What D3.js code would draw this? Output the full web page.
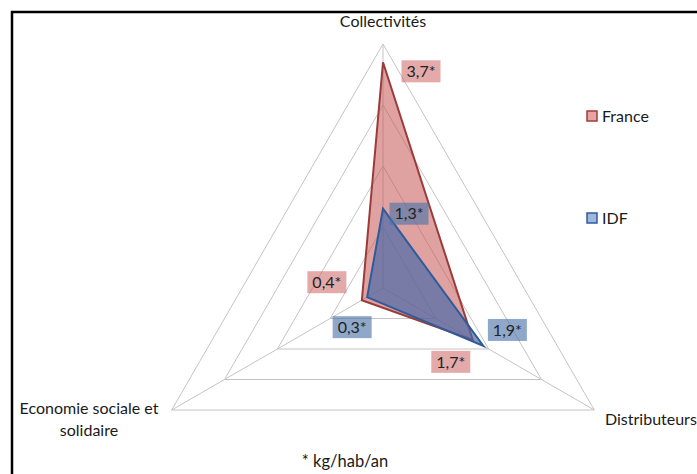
<!DOCTYPE html>
<html>
<head>
<meta charset="utf-8">
<script src="https://cdn.jsdelivr.net/npm/d3@7"></script>
<style>
  html, body { margin: 0; padding: 0; background: #fff; }
  svg { display: block; font-family: Lato, "Open Sans", sans-serif; }
</style>
</head>
<body>
<svg id="chart" width="697" height="474"></svg>
<script>
// Waste collected per channel, kg per inhabitant per year
const axes = ["Collectivités", "Distributeurs", "Economie sociale et solidaire"];
const seriesNames = ["France", "IDF"];
const franceValues = [3.7, 1.7, 0.4];
const idfValues = [1.3, 1.9, 0.3];
const ringTicks = [1, 2, 3, 4];
const footnote = "* kg/hab/an";

const series = [
  { name: seriesNames[0], values: franceValues },
  { name: seriesNames[1], values: idfValues }
];

const colors = {
  France: { stroke: "#9b3b3a", fill: "rgba(196,86,84,0.55)", label: "rgba(205,100,100,0.55)", swatch: "#e6a5a4", swatchStroke: "#a13d3c" },
  IDF:    { stroke: "#2f5b9a", fill: "rgba(72,104,170,0.68)", label: "rgba(75,115,170,0.62)", swatch: "#9db8dc", swatchStroke: "#2f5b9a" }
};

// label placement around each vertex (pixel offsets from the data point)
const labelNudge = {
  France: [[38, 9], [-22, 22], [-35, -18]],
  IDF:    [[26, 5], [24, -16], [-15, 30]]
};

const svg = d3.select("#chart");
const cx = 383, cy = 288, R = 244;

const r = d3.scaleLinear().domain([0, d3.max(ringTicks)]).range([0, R]);
// first axis points up, then clockwise
const angle = d3.scalePoint().domain(d3.range(axes.length)).range([0, 2 * Math.PI * (axes.length - 1) / axes.length]);
const pt = (i, v) => {
  const a = angle(i) - Math.PI / 2;
  return [cx + r(v) * Math.cos(a), cy + r(v) * Math.sin(a)];
};

// chart frame
svg.append("path")
  .attr("d", "M12,480 V12 H700")
  .attr("fill", "none").attr("stroke", "#000").attr("stroke-width", 2.5);

// grid rings
const grid = svg.append("g").attr("stroke", "#c4c4c4").attr("stroke-width", 1).attr("fill", "none");
ringTicks.forEach(t => {
  grid.append("path").attr("d", d3.line()(axes.map((_, i) => pt(i, t))) + "Z");
});
// spokes
axes.forEach((_, i) => {
  grid.append("path").attr("d", d3.line()([pt(i, 0), pt(i, d3.max(ringTicks))]));
});

// series areas
const line = d3.line();
series.forEach(s => {
  svg.append("path")
    .attr("d", line(s.values.map((v, i) => pt(i, v))) + "Z")
    .attr("fill", colors[s.name].fill)
    .attr("stroke", colors[s.name].stroke)
    .attr("stroke-width", 2)
    .attr("stroke-linejoin", "miter");
});

// value labels
const fmt = v => d3.format(".1f")(v).replace(".", ",") + "*";
series.forEach(s => {
  s.values.forEach((v, i) => {
    const [x, y] = pt(i, v);
    const [dx, dy] = labelNudge[s.name][i];
    const g = svg.append("g").attr("transform", `translate(${x + dx},${y + dy})`);
    g.append("rect")
      .attr("x", -19.5).attr("y", -11).attr("width", 39).attr("height", 22)
      .attr("fill", colors[s.name].label);
    g.append("text")
      .attr("text-anchor", "middle").attr("dy", "0.36em")
      .attr("font-size", 16).attr("fill", "#222")
      .text(fmt(v));
  });
});

// axis titles
const titleStyle = sel => sel.attr("font-size", 16).attr("fill", "#1a1a1a");
svg.append("text").call(titleStyle)
  .attr("x", cx).attr("y", 27).attr("text-anchor", "middle").text(axes[0]);
svg.append("text").call(titleStyle)
  .attr("x", 605).attr("y", 425).attr("text-anchor", "start").text(axes[1]);
const ess = svg.append("text").call(titleStyle).attr("text-anchor", "middle");
ess.append("tspan").attr("x", 89).attr("y", 414).text("Economie sociale et");
ess.append("tspan").attr("x", 89).attr("y", 436).text("solidaire");

// footnote
svg.append("text").call(titleStyle).attr("font-size", 16.5)
  .attr("x", 345).attr("y", 467).attr("text-anchor", "middle").text(footnote);

// legend
const legend = svg.append("g");
series.forEach((s, k) => {
  const y = 116 + k * 102;
  legend.append("rect")
    .attr("x", 587).attr("y", y - 5).attr("width", 10).attr("height", 10)
    .attr("fill", colors[s.name].swatch)
    .attr("stroke", colors[s.name].swatchStroke).attr("stroke-width", 1.5);
  legend.append("text").call(titleStyle)
    .attr("x", 602).attr("y", y).attr("dy", "0.35em").text(s.name);
});
</script>
</body>
</html>
